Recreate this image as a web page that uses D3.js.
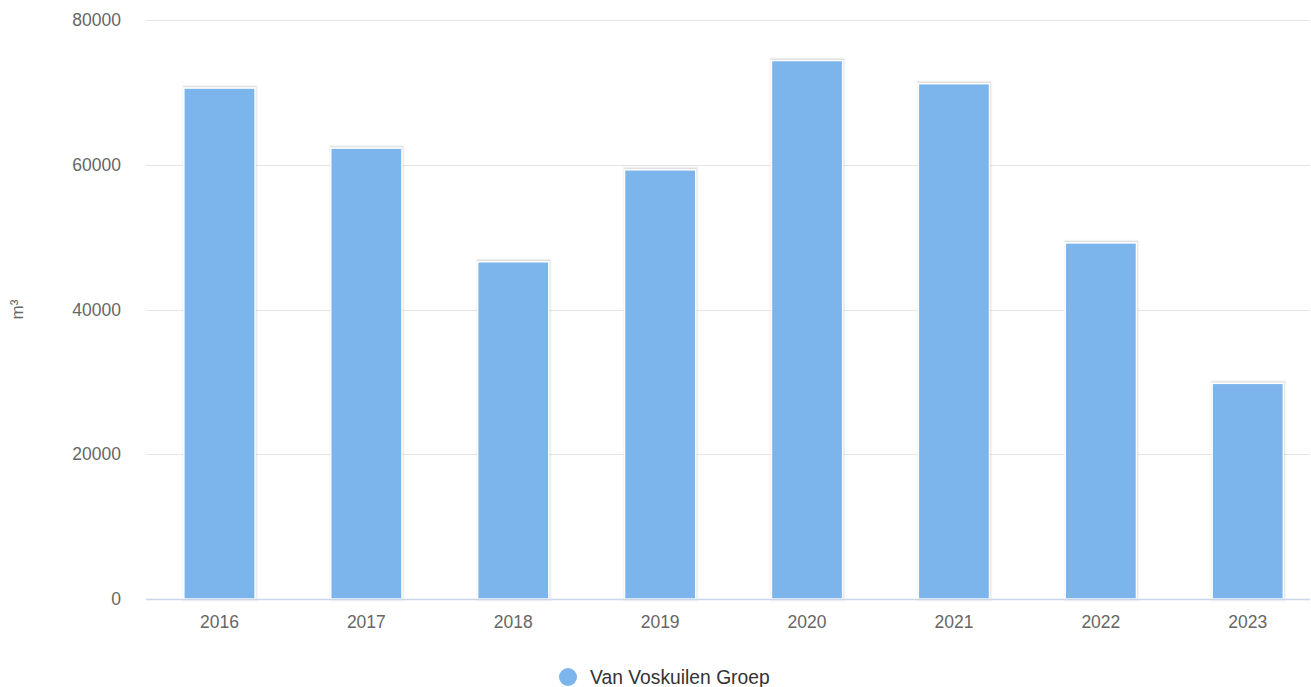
<!DOCTYPE html>
<html>
<head>
<meta charset="utf-8">
<script src="https://cdn.jsdelivr.net/npm/d3@7"></script>
<style>
  html, body { margin: 0; padding: 0; background: #fff; }
  svg { display: block; font-family: "Liberation Sans", Arial, Helvetica, sans-serif; }
</style>
</head>
<body>
<svg id="chart" width="1311" height="687"></svg>
<script>
// Yearly volume per year
const years = ["2016", "2017", "2018", "2019", "2020", "2021", "2022", "2023"];
const volumes = [70600, 62300, 46600, 59300, 74400, 71200, 49200, 29800];
const yTicks = [0, 20000, 40000, 60000, 80000];
const seriesName = "Van Voskuilen Groep";
const yTitle = "m³";

const W = 1311, H = 687;
const plotLeft = 146, plotRight = 1310, plotTop = 20, plotBottom = 599;
const svg = d3.select("#chart");

// categories are laid out on a slightly wider band than the visible axis
const x = d3.scaleBand()
  .domain(years)
  .range([plotLeft, plotLeft + 8 * 146.9])
  .paddingInner(0.515)
  .paddingOuter(0.2575);

const y = d3.scaleLinear()
  .domain([0, 80000])
  .range([plotBottom, plotTop]);

// horizontal grid lines
svg.append("g")
  .selectAll("line")
  .data(yTicks)
  .join("line")
  .attr("x1", plotLeft)
  .attr("x2", plotRight)
  .attr("y1", d => Math.round(y(d)) + 0.5)
  .attr("y2", d => Math.round(y(d)) + 0.5)
  .attr("stroke", "#e6e6e6")
  .attr("stroke-width", 1);

// y tick labels
svg.append("g")
  .selectAll("text")
  .data(yTicks)
  .join("text")
  .attr("x", plotLeft - 25)
  .attr("y", d => y(d))
  .attr("dy", "0.35em")
  .attr("text-anchor", "end")
  .attr("fill", "#666666")
  .attr("font-size", 17.5)
  .text(d => d);

// y axis title
svg.append("text")
  .attr("transform", `translate(23,${(plotTop + plotBottom) / 2}) rotate(-90)`)
  .attr("text-anchor", "middle")
  .attr("fill", "#666666")
  .attr("font-size", 17)
  .text(yTitle);

// bars with a soft shadow and white border
const bars = svg.append("g")
  .selectAll("g")
  .data(years.map((yr, i) => ({ yr, v: volumes[i] })))
  .join("g");

[[5, 0.025], [3, 0.05], [1, 0.08]].forEach(([sw, op]) => {
  bars.append("rect")
    .attr("x", d => x(d.yr) + 0.5)
    .attr("y", d => y(d.v) - 1)
    .attr("width", x.bandwidth())
    .attr("height", d => y(0) - y(d.v) + 1)
    .attr("fill", "none")
    .attr("stroke", "#000")
    .attr("stroke-opacity", op)
    .attr("stroke-width", sw);
});

bars.append("rect")
  .attr("x", d => x(d.yr))
  .attr("y", d => y(d.v))
  .attr("width", x.bandwidth())
  .attr("height", d => y(0) - y(d.v))
  .attr("fill", "#7cb5ec")
  .attr("stroke", "#ffffff")
  .attr("stroke-width", 1.5);

// x axis line
svg.append("line")
  .attr("x1", plotLeft)
  .attr("x2", plotRight)
  .attr("y1", Math.round(y(0)) + 0.5)
  .attr("y2", Math.round(y(0)) + 0.5)
  .attr("stroke", "#ccd6eb")
  .attr("stroke-width", 1.5);

// x tick labels
svg.append("g")
  .selectAll("text")
  .data(years)
  .join("text")
  .attr("x", d => x(d) + x.bandwidth() / 2)
  .attr("y", y(0) + 29)
  .attr("text-anchor", "middle")
  .attr("fill", "#666666")
  .attr("font-size", 17.5)
  .text(d => d);

// legend
const legend = svg.append("g").attr("transform", "translate(568,677)");
legend.append("circle")
  .attr("r", 9)
  .attr("fill", "#7cb5ec");
legend.append("text")
  .attr("x", 22)
  .attr("dy", "0.35em")
  .attr("fill", "#333333")
  .attr("font-size", 19.3)
  .text(seriesName);
</script>
</body>
</html>
